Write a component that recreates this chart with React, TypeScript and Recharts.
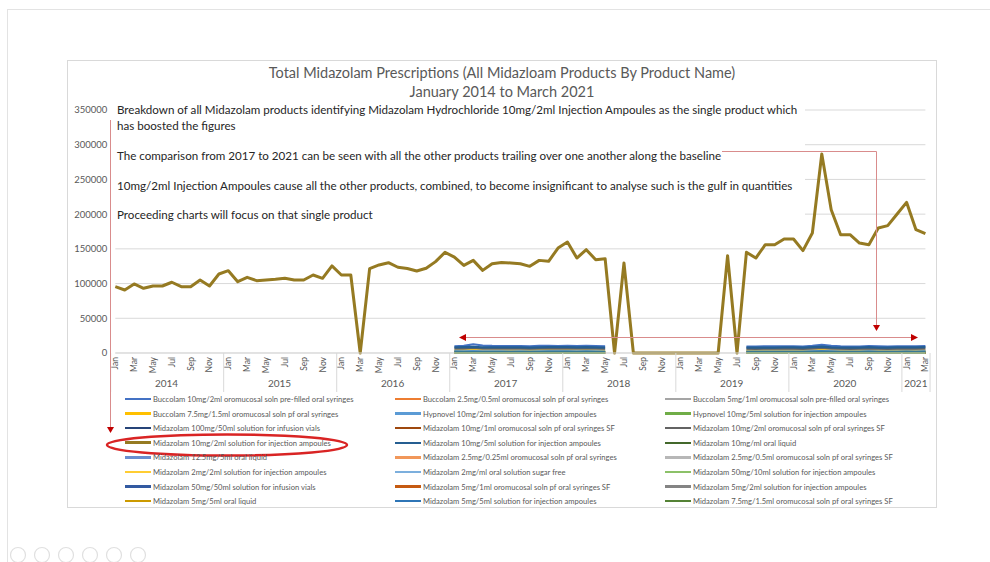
import { LineChart, Line, XAxis, YAxis, CartesianGrid } from 'recharts';

// categories
const MONTHS = ['Jan', 'Feb', 'Mar', 'Apr', 'May', 'Jun', 'Jul', 'Aug', 'Sep', 'Oct', 'Nov', 'Dec'];
const YEARS = [2014, 2015, 2016, 2017, 2018, 2019, 2020, 2021];
const Y_TICKS = [0, 50000, 100000, 150000, 200000, 250000, 300000, 350000];

// Midazolam 10mg/2ml solution for injection ampoules, Jan 2014 - Mar 2021
const injAmp10_2 = [
  95500, 90800, 99400, 93200, 96500, 96500, 101900, 95500, 95500, 105200, 96500, 113800,
  118600, 102700, 109000, 104200, 105200, 106200, 107600, 105200, 105200, 112400, 107600, 125400,
  112400, 112400, 0, 121600, 126800, 130100, 123500, 121600, 118100, 122000, 131600, 145000,
  138200, 126200, 133400, 119000, 128600, 130500, 129600, 128600, 124800, 133400, 132000, 151200,
  159800, 136800, 148800, 134400, 135800, 0, 129600, 0, 0, 0, 0, 0,
  0, 0, 0, 0, 0, 140200, 0, 145000, 136800, 156000, 156000, 164200,
  164200, 147400, 172800, 286600, 206400, 170400, 170400, 158400, 156000, 180000, 183400, 200200,
  217000, 177600, 171800,
];

// other products: 17 months Jan 2017 - May 2018, then 20 months Aug 2019 - Mar 2021
const buccolam10 = [9600, 10400, 12600, 10800, 10200, 10000, 9800, 9900, 9700, 10100, 10300, 10000, 10200, 9900, 10100, 9800, 9700,
  9300, 9200, 9500, 9400, 9600, 9500, 9300, 10200, 11800, 10100, 9400, 9200, 9300, 9800, 9500, 9300, 9400, 9600, 9500, 9800];
const buccolam25 = [720, 690, 760, 700, 730, 710, 690, 700, 720, 740, 710, 760, 780, 700, 740, 720, 700,
  650, 640, 680, 660, 690, 670, 650, 700, 760, 690, 640, 630, 650, 670, 660, 640, 650, 680, 670, 690];
const buccolam5 = [4300, 4500, 5200, 4600, 4500, 4400, 4400, 4500, 4300, 4600, 4700, 4500, 4600, 4400, 4600, 4400, 4300,
  4200, 4100, 4300, 4200, 4300, 4300, 4100, 4600, 5300, 4500, 4200, 4100, 4200, 4400, 4300, 4100, 4200, 4300, 4300, 4400];
const buccolam75 = [3100, 3300, 3800, 3300, 3200, 3200, 3100, 3200, 3100, 3300, 3400, 3200, 3300, 3100, 3300, 3100, 3000,
  2900, 2800, 3000, 2900, 3000, 3000, 2900, 3200, 3700, 3100, 2900, 2800, 2900, 3000, 2900, 2800, 2900, 3000, 3000, 3100];
const hypnovel10_2 = [650, 620, 680, 600, 630, 610, 600, 590, 610, 620, 600, 580, 600, 570, 590, 570, 560,
  480, 470, 490, 480, 470, 460, 450, 470, 500, 460, 450, 440, 430, 450, 440, 430, 420, 440, 430, 420];
const hypnovel10_5 = [1500, 1450, 1600, 1400, 1500, 1450, 1400, 1450, 1400, 1500, 1450, 1550, 1500, 1400, 1450, 1400, 1350,
  1200, 1150, 1200, 1150, 1200, 1150, 1100, 1200, 1300, 1150, 1100, 1050, 1100, 1150, 1100, 1050, 1050, 1100, 1100, 1150];
const infusion100_50 = [310, 290, 320, 300, 310, 300, 290, 300, 310, 320, 300, 330, 340, 310, 320, 300, 310,
  380, 370, 390, 400, 410, 420, 400, 520, 640, 480, 420, 410, 400, 420, 450, 480, 520, 500, 460, 440];
const oro10_1 = [220, 210, 240, 220, 230, 220, 210, 220, 210, 230, 240, 220, 230, 210, 220, 210, 200,
  190, 180, 200, 190, 200, 190, 180, 200, 230, 190, 180, 170, 180, 190, 180, 170, 180, 190, 180, 190];
const oro10_2 = [6500, 6700, 7600, 6800, 6700, 6600, 6500, 6600, 6400, 6800, 6900, 6700, 6900, 6600, 6800, 6500, 6400,
  6200, 6100, 6300, 6200, 6300, 6300, 6100, 6800, 7700, 6600, 6200, 6100, 6200, 6500, 6300, 6100, 6200, 6400, 6300, 6500];
const injAmp10_5 = [8100, 8300, 8700, 8000, 8200, 8100, 8000, 8100, 7900, 8200, 8300, 8400, 8500, 8100, 8300, 8000, 7900,
  7700, 7600, 7800, 7900, 8000, 8100, 7900, 8600, 9200, 8200, 7800, 7700, 7800, 8300, 7900, 7800, 8000, 8200, 8000, 8300];
const oralLiq10 = [160, 150, 170, 150, 160, 150, 150, 160, 150, 160, 170, 150, 160, 150, 160, 150, 140,
  130, 120, 130, 120, 130, 120, 120, 130, 150, 130, 120, 110, 120, 130, 120, 110, 120, 130, 120, 130];
const oralLiq125 = [60, 55, 65, 60, 60, 55, 55, 60, 55, 60, 65, 60, 60, 55, 60, 55, 50,
  45, 40, 45, 40, 45, 40, 40, 45, 50, 45, 40, 40, 40, 45, 40, 40, 40, 45, 40, 45];
const oro25_025 = [110, 100, 120, 110, 110, 100, 100, 110, 100, 110, 120, 110, 110, 100, 110, 100, 90,
  90, 85, 90, 85, 90, 85, 80, 90, 100, 90, 85, 80, 85, 90, 85, 80, 85, 90, 85, 90];
const oro25_05 = [360, 350, 380, 350, 360, 350, 340, 350, 340, 360, 370, 350, 360, 340, 350, 340, 330,
  310, 300, 320, 310, 320, 310, 300, 330, 380, 320, 300, 290, 300, 320, 310, 300, 300, 310, 310, 320];
const injAmp2_2 = [920, 900, 960, 880, 910, 900, 880, 890, 880, 910, 920, 940, 950, 900, 920, 890, 870,
  840, 830, 850, 860, 880, 900, 870, 950, 1020, 900, 860, 850, 860, 900, 870, 860, 880, 900, 880, 910];
const oralSol2 = [2200, 2300, 2600, 2300, 2250, 2200, 2150, 2200, 2150, 2300, 2350, 2250, 2300, 2200, 2300, 2200, 2150,
  2100, 2050, 2150, 2100, 2150, 2150, 2050, 2300, 2650, 2250, 2100, 2050, 2100, 2200, 2150, 2050, 2100, 2150, 2150, 2200];
const injAmp50_10 = [1000, 980, 1050, 960, 990, 980, 960, 970, 960, 990, 1000, 1020, 1030, 980, 1000, 970, 950,
  980, 970, 990, 1020, 1060, 1100, 1050, 1250, 1450, 1150, 1060, 1040, 1050, 1100, 1080, 1120, 1180, 1150, 1100, 1080];
const infusion50_50 = [260, 250, 270, 250, 260, 250, 240, 250, 260, 270, 250, 280, 290, 260, 270, 250, 260,
  320, 310, 330, 340, 350, 360, 340, 450, 560, 410, 360, 350, 340, 360, 390, 420, 450, 430, 400, 380];
const oro5_1 = [150, 140, 160, 150, 150, 140, 140, 150, 140, 150, 160, 150, 150, 140, 150, 140, 130,
  120, 115, 125, 120, 125, 120, 115, 125, 140, 125, 115, 110, 115, 120, 115, 110, 115, 120, 115, 120];
const injAmp5_2 = [420, 410, 440, 400, 420, 410, 400, 410, 400, 420, 430, 420, 430, 410, 420, 400, 390,
  380, 370, 390, 380, 390, 380, 370, 400, 440, 390, 370, 360, 370, 390, 380, 370, 380, 390, 380, 390];
const oralLiq5 = [80, 75, 85, 80, 80, 75, 75, 80, 75, 80, 85, 80, 80, 75, 80, 75, 70,
  65, 60, 65, 60, 65, 60, 60, 65, 75, 65, 60, 55, 60, 65, 60, 55, 60, 65, 60, 65];
const injAmp5_5 = [1850, 1800, 1900, 1750, 1800, 1780, 1760, 1770, 1750, 1800, 1820, 1850, 1870, 1800, 1830, 1780, 1760,
  1700, 1680, 1720, 1740, 1780, 1800, 1760, 1950, 2200, 1850, 1760, 1740, 1750, 1820, 1780, 1760, 1790, 1820, 1790, 1830];
const oro75 = [260, 250, 280, 260, 260, 250, 250, 260, 250, 260, 270, 260, 260, 250, 260, 250, 240,
  230, 220, 240, 230, 240, 230, 220, 240, 270, 240, 220, 210, 220, 230, 220, 210, 220, 230, 220, 230];

const SERIES = [
  { name: 'Buccolam 10mg/2ml oromucosal soln pre-filled oral syringes', color: '#4472C4', values: buccolam10 },
  { name: 'Buccolam 2.5mg/0.5ml oromucosal soln pf oral syringes', color: '#ED7D31', values: buccolam25 },
  { name: 'Buccolam 5mg/1ml oromucosal soln pre-filled oral syringes', color: '#A5A5A5', values: buccolam5 },
  { name: 'Buccolam 7.5mg/1.5ml oromucosal soln pf oral syringes', color: '#FFC000', values: buccolam75 },
  { name: 'Hypnovel 10mg/2ml solution for injection ampoules', color: '#5B9BD5', values: hypnovel10_2 },
  { name: 'Hypnovel 10mg/5ml solution for injection ampoules', color: '#70AD47', values: hypnovel10_5 },
  { name: 'Midazolam 100mg/50ml solution for infusion vials', color: '#264478', values: infusion100_50 },
  { name: 'Midazolam 10mg/1ml oromucosal soln pf oral syringes SF', color: '#9E480E', values: oro10_1 },
  { name: 'Midazolam 10mg/2ml oromucosal soln pf oral syringes SF', color: '#636363', values: oro10_2 },
  { name: 'Midazolam 10mg/2ml solution for injection ampoules', color: '#957A22', values: injAmp10_2 },
  { name: 'Midazolam 10mg/5ml solution for injection ampoules', color: '#255E91', values: injAmp10_5 },
  { name: 'Midazolam 10mg/ml oral liquid', color: '#43682B', values: oralLiq10 },
  { name: 'Midazolam 12.5mg/5ml oral liquid', color: '#698ED0', values: oralLiq125 },
  { name: 'Midazolam 2.5mg/0.25ml oromucosal soln pf oral syringes', color: '#F1975A', values: oro25_025 },
  { name: 'Midazolam 2.5mg/0.5ml oromucosal soln pf oral syringes SF', color: '#B7B7B7', values: oro25_05 },
  { name: 'Midazolam 2mg/2ml solution for injection ampoules', color: '#FFCD33', values: injAmp2_2 },
  { name: 'Midazolam 2mg/ml oral solution sugar free', color: '#7CAFDD', values: oralSol2 },
  { name: 'Midazolam 50mg/10ml solution for injection ampoules', color: '#8CC168', values: injAmp50_10 },
  { name: 'Midazolam 50mg/50ml solution for infusion vials', color: '#335AA1', values: infusion50_50 },
  { name: 'Midazolam 5mg/1ml oromucosal soln pf oral syringes SF', color: '#C55A11', values: oro5_1 },
  { name: 'Midazolam 5mg/2ml solution for injection ampoules', color: '#848484', values: injAmp5_2 },
  { name: 'Midazolam 5mg/5ml oral liquid', color: '#CC9A00', values: oralLiq5 },
  { name: 'Midazolam 5mg/5ml solution for injection ampoules', color: '#2E75B6', values: injAmp5_5 },
  { name: 'Midazolam 7.5mg/1.5ml oromucosal soln pf oral syringes SF', color: '#548235', values: oro75 },
];
const MAIN_IDX = 9;
const A_START = 36; // Jan 2017
const A_LEN = 17;
const B_START = 67; // Aug 2019

const rows: any[] = [];
YEARS.forEach((yr) => {
  MONTHS.forEach((m) => {
    const i = rows.length;
    if (i >= injAmp10_2.length) return;
    const row: any = { key: `${yr}-${m}` };
    SERIES.forEach((s, k) => {
      if (k === MAIN_IDX) row['s' + k] = s.values[i];
      else if (i >= A_START && i < A_START + A_LEN) row['s' + k] = s.values[i - A_START];
      else if (i >= B_START) row['s' + k] = s.values[A_LEN + i - B_START];
      else row['s' + k] = null;
    });
    rows.push(row);
  });
});

const FONT = 'Lato, "Open Sans", sans-serif';
const GREY = '#595959';
const PLOT_L = 115.3;
const PLOT_R = 925.4;
const BAND = (PLOT_R - PLOT_L) / rows.length;

function MonthTick(props: any) {
  const { x, y, payload } = props;
  const [yr, m] = String(payload.value).split('-');
  const last = payload.value === rows[rows.length - 1].key;
  const left = x - BAND / 2;
  const monthsInYear = rows.filter((r) => r.key.startsWith(yr)).length;
  return (
    <g>
      <text transform={`translate(${x + 3},${y + 4}) rotate(-90)`} textAnchor="end" fontSize={8.5} fill={GREY} fontFamily={FONT}>
        {m}
      </text>
      {m === 'Jan' && (
        <>
          <line x1={left} x2={left} y1={y} y2={y + 39} stroke="#D9D9D9" />
          <text x={left + (monthsInYear * BAND) / 2} y={y + 34} textAnchor="middle" fontSize={10} fill={GREY} fontFamily={FONT}>
            {yr}
          </text>
        </>
      )}
      {last && <line x1={x + BAND / 2} x2={x + BAND / 2} y1={y} y2={y + 39} stroke="#D9D9D9" />}
    </g>
  );
}

function Arrow({ x, y, dir }: { x: number; y: number; dir: 'down' | 'left' | 'right' }) {
  const p =
    dir === 'down'
      ? `${x - 3.5},${y - 6} ${x + 3.5},${y - 6} ${x},${y}`
      : dir === 'left'
      ? `${x + 7},${y - 3.5} ${x + 7},${y + 3.5} ${x},${y}`
      : `${x - 7},${y - 3.5} ${x - 7},${y + 3.5} ${x},${y}`;
  return <polygon points={p} fill="#C00000" />;
}

const NOTES = [
  { y: 114, t: 'Breakdown of all Midazolam products identifying Midazolam Hydrochloride 10mg/2ml Injection Ampoules as the single product which' },
  { y: 130, t: 'has boosted the figures' },
  { y: 160, t: 'The comparison from 2017 to 2021 can be seen with all the other products trailing over one another along the baseline' },
  { y: 190, t: '10mg/2ml Injection Ampoules cause all the other products, combined, to become insignificant to analyse such is the gulf in quantities' },
  { y: 219, t: 'Proceeding charts will focus on that single product' },
];

export default function App() {
  return (
    <div style={{ position: 'fixed', left: 0, top: 0, width: 990, height: 562, background: '#fff', overflow: 'hidden', fontFamily: FONT }}>
      <svg width={990} height={562} style={{ position: 'absolute', left: 0, top: 0 }}>
        <line x1={7} x2={990} y1={9.5} y2={9.5} stroke="#E3E3E3" />
        <line x1={7.5} x2={7.5} y1={9} y2={562} stroke="#E3E3E3" />
        <rect x={67.5} y={60.5} width={869} height={447} fill="#fff" stroke="#D9D9D9" />
        {[18, 42, 66, 90, 114, 138].map((cx) => (
          <circle key={cx} cx={cx} cy={555} r={7.5} fill="none" stroke="#E0E0E0" strokeWidth={1.2} />
        ))}
      </svg>
      <div style={{ position: 'absolute', left: 0, top: 0 }}>
        <LineChart width={990} height={562} data={rows} margin={{ top: 110, right: 990 - PLOT_R, left: PLOT_L - 45, bottom: 169 }}>
          <CartesianGrid vertical={false} stroke="#D9D9D9" />
          <XAxis
            dataKey="key"
            interval={1}
            tickLine={false}
            tickSize={0}
            tickMargin={0}
            height={40}
            axisLine={{ stroke: '#D9D9D9' }}
            tick={<MonthTick />}
          />
          <YAxis
            width={45}
            domain={[0, 350000]}
            ticks={Y_TICKS}
            axisLine={false}
            tickLine={false}
            tick={{ fontSize: 9.5, fill: GREY, fontFamily: FONT }}
          />
          {SERIES.map((s, k) => (
            <Line
              key={s.name}
              dataKey={'s' + k}
              name={s.name}
              stroke={s.color}
              strokeWidth={k === MAIN_IDX ? 3 : 2.25}
              strokeLinejoin="round"
              dot={false}
              activeDot={false}
              connectNulls={false}
              isAnimationActive={false}
            />
          ))}
        </LineChart>
      </div>
      <svg width={990} height={562} style={{ position: 'absolute', left: 0, top: 0, pointerEvents: 'none' }}>
        <text x={502} y={78} textAnchor="middle" fontSize={14.5} fill={GREY} fontFamily={FONT}>
          Total Midazolam Prescriptions (All Midazloam Products By Product Name)
        </text>
        <text x={502} y={97} textAnchor="middle" fontSize={14.5} fill={GREY} fontFamily={FONT}>
          January 2014 to March 2021
        </text>
        <rect x={113} y={100} width={692} height={124} fill="#fff" />
        {NOTES.map((n) => (
          <text key={n.y} x={117} y={n.y} fontSize={11.6} fill="#262626" fontFamily={FONT}>
            {n.t}
          </text>
        ))}
        <line x1={110.5} x2={110.5} y1={120} y2={427} stroke="#D98C8C" />
        <Arrow x={110.5} y={433} dir="down" />
        <polyline points="722,151.5 876.5,151.5 876.5,325" fill="none" stroke="#D98C8C" />
        <Arrow x={876.5} y={331} dir="down" />
        <line x1={465} x2={912} y1={337.5} y2={337.5} stroke="#D98C8C" />
        <Arrow x={459} y={337.5} dir="left" />
        <Arrow x={918} y={337.5} dir="right" />
        <ellipse cx={227} cy={445} rx={120} ry={10.5} fill="none" stroke="#D92424" strokeWidth={2.5} />
      </svg>
      <div style={{ position: 'absolute', left: 0, top: 0 }}>
        {SERIES.map((s, k) => {
          const col = k % 3;
          const row = Math.floor(k / 3);
          return (
            <div
              key={s.name}
              style={{
                position: 'absolute',
                left: 125 + col * 270,
                top: 394 + row * 14.6,
                display: 'flex',
                alignItems: 'center',
                whiteSpace: 'nowrap',
                fontSize: 7.6,
                color: GREY,
                height: 10,
              }}
            >
              <span style={{ display: 'inline-block', width: 26, height: k === MAIN_IDX ? 3 : 2.5, background: s.color, marginRight: 2 }} />
              {s.name}
            </div>
          );
        })}
      </div>
    </div>
  );
}
